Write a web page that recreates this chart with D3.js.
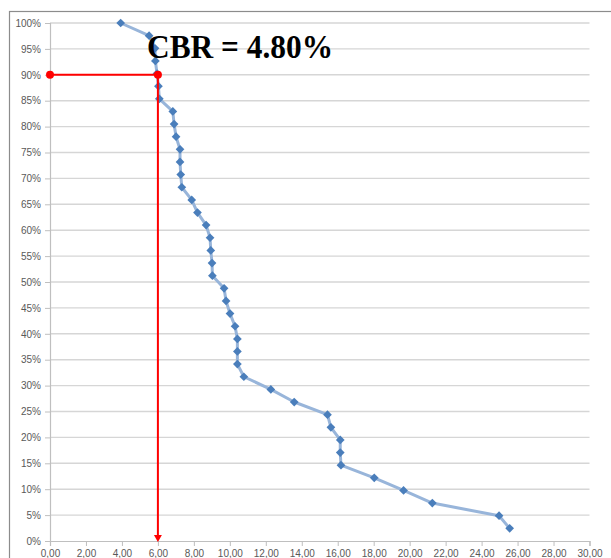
<!DOCTYPE html>
<html>
<head>
<meta charset="utf-8">
<script src="https://cdn.jsdelivr.net/npm/d3@7"></script>
<style>
  body { margin: 0; background: #fff; }
  svg { display: block; }
</style>
</head>
<body>
<div id="chart"></div>
<script>
// CBR values (x) and the share of samples at or above them (y, %)
var cbrValues = [3.93, 5.51, 5.84, 5.86, 5.95, 6.03, 6.08, 6.83, 6.90, 7.01,
    7.23, 7.23, 7.27, 7.33, 7.88, 8.20, 8.68, 8.90, 8.94, 9.01,
    9.03, 9.68, 9.79, 10.01, 10.29, 10.42, 10.42, 10.42, 10.78, 12.28,
    13.58, 15.43, 15.62, 16.14, 16.14, 16.18, 18.03, 19.66, 21.26, 24.97,
    25.56];
var percents = [100, 97.56, 95.12, 92.68, 90.24, 87.80, 85.37, 82.93, 80.49, 78.05,
    75.61, 73.17, 70.73, 68.29, 65.85, 63.41, 60.98, 58.54, 56.10, 53.66,
    51.22, 48.78, 46.34, 43.90, 41.46, 39.02, 36.59, 34.15, 31.71, 29.27,
    26.83, 24.39, 21.95, 19.51, 17.07, 14.63, 12.20, 9.76, 7.32, 4.88,
    2.44];
var xTicks = [0, 2, 4, 6, 8, 10, 12, 14, 16, 18, 20, 22, 24, 26, 28, 30];
var yTicks = [0, 5, 10, 15, 20, 25, 30, 35, 40, 45, 50, 55, 60, 65, 70, 75, 80, 85, 90, 95, 100];
// design reading: 90% of samples -> CBR 6.00
var designPoint = { x: 6.0, y: 90 };
var title = 'CBR = 4.80%';

var width = 611, height = 558;

var svg = d3.select('#chart').append('svg')
    .attr('width', width)
    .attr('height', height);

// outer chart frame (continues past the window on right/bottom)
svg.append('rect')
    .attr('x', 9.5).attr('y', 11.5)
    .attr('width', 640).attr('height', 600)
    .attr('fill', 'none')
    .attr('stroke', '#8c8c8c')
    .attr('stroke-width', 1.2);

var x = d3.scaleLinear().domain([0, 30]).range([50, 589.5]);
var y = d3.scaleLinear().domain([0, 100]).range([541, 23]);

// gridlines
svg.append('g').selectAll('line')
    .data(yTicks.filter(function(d) { return d > 0; }))
    .join('line')
    .attr('x1', x(0)).attr('x2', x(30))
    .attr('y1', function(d) { return y(d); })
    .attr('y2', function(d) { return y(d); })
    .attr('stroke', '#d6d6d6')
    .attr('stroke-width', 1.4);

var fmtX = function(d) { return d.toFixed(2).replace('.', ','); };
var fmtY = function(d) { return d + '%'; };

var xAxis = svg.append('g')
    .attr('transform', 'translate(0,' + y(0) + ')')
    .call(d3.axisBottom(x).tickValues(xTicks).tickFormat(fmtX).tickSize(5).tickPadding(4));

var yAxis = svg.append('g')
    .attr('transform', 'translate(' + x(0) + ',0)')
    .call(d3.axisLeft(y).tickValues(yTicks).tickFormat(fmtY).tickSize(5).tickPadding(4));

[xAxis, yAxis].forEach(function(ax) {
    ax.select('.domain').attr('stroke', '#bfbfbf').attr('stroke-width', 1.2);
    ax.selectAll('.tick line').attr('stroke', '#bfbfbf');
    ax.selectAll('text')
        .attr('fill', '#595959')
        .style('font-family', '"Liberation Sans", Arial, sans-serif')
        .style('font-size', '10px');
});

// series
var points = cbrValues.map(function(v, i) { return { x: v, y: percents[i] }; });

var line = d3.line()
    .x(function(d) { return x(d.x); })
    .y(function(d) { return y(d.y); });

svg.append('path')
    .datum(points)
    .attr('fill', 'none')
    .attr('stroke', '#98b5da')
    .attr('stroke-width', 3)
    .attr('stroke-linejoin', 'round')
    .attr('d', line);

svg.append('g').selectAll('path')
    .data(points)
    .join('path')
    .attr('transform', function(d) { return 'translate(' + x(d.x) + ',' + y(d.y) + ') rotate(45)'; })
    .attr('d', d3.symbol(d3.symbolSquare, 38))
    .attr('fill', '#4a7ebb');

// red design lines
var red = svg.append('g');
red.append('line')
    .attr('x1', x(0)).attr('x2', x(designPoint.x))
    .attr('y1', y(designPoint.y)).attr('y2', y(designPoint.y))
    .attr('stroke', '#ff0000').attr('stroke-width', 2);
red.append('line')
    .attr('x1', x(designPoint.x)).attr('x2', x(designPoint.x))
    .attr('y1', y(designPoint.y)).attr('y2', y(0) - 5)
    .attr('stroke', '#ff0000').attr('stroke-width', 2);
red.append('path')
    .attr('d', 'M' + (x(designPoint.x) - 4) + ',' + (y(0) - 6) +
        'L' + (x(designPoint.x) + 4) + ',' + (y(0) - 6) +
        'L' + x(designPoint.x) + ',' + (y(0) + 1) + 'Z')
    .attr('fill', '#ff0000');
red.selectAll('circle')
    .data([{ x: 0, y: designPoint.y }, designPoint])
    .join('circle')
    .attr('cx', function(d) { return x(d.x); })
    .attr('cy', function(d) { return y(d.y); })
    .attr('r', 4)
    .attr('fill', '#ff0000');

// label
svg.append('text')
    .attr('x', 147)
    .attr('y', 58)
    .attr('fill', '#000')
    .style('font-family', '"Liberation Serif", "Times New Roman", serif')
    .style('font-weight', 'bold')
    .style('font-size', '33px')
    .attr('textLength', 186)
    .attr('lengthAdjust', 'spacingAndGlyphs')
    .text(title);
</script>
</body>
</html>
